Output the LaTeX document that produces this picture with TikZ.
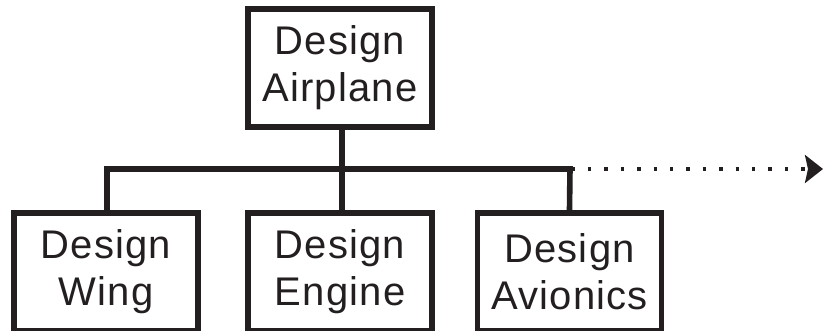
\documentclass[tikz,border=0pt]{standalone}
\usepackage{fontspec}
\setmainfont{Liberation Sans}[LetterSpace=3]
\usetikzlibrary{arrows.meta}
\definecolor{ink}{RGB}{35,31,32}
\begin{document}
\begin{tikzpicture}[x=1pt,y=-1pt,
  taskbox/.style={draw=ink, text=ink, line width=5.8pt, minimum width=184pt, minimum height=118pt,
    inner sep=0pt, align=center, font=\fontsize{40pt}{47.3pt}\selectfont},
  link/.style={draw=ink, line width=5.6pt, line join=miter},
  more/.style={draw=ink, line width=3.4pt, line cap=butt, dash pattern=on 3.4pt off 13pt, dash phase=14.8pt,
    -{Stealth[length=18pt,width=28pt,inset=3pt]}}]
\useasboundingbox (0,0) rectangle (823,331);
\node[taskbox] (top) at (340,68) {Design\\Airplane};
\node[taskbox] (wing) at (106,272) {Design\\Wing};
\node[taskbox] (eng) at (340,272) {Design\\Engine};
\node[taskbox] (avi) at (569.5,272) {Design\\Avionics};
\coordinate (barL) at (107,169);
\coordinate (barR) at (570,169);
\coordinate (tip) at (823,169);
\draw[link] ([xshift=2pt]top.south) -- ([xshift=2pt]eng.north);
\draw[link] ([xshift=1pt]wing.north) -- (barL) -- (barR) -- (avi.north);
\draw[more] (barR) -- (tip);
\end{tikzpicture}
\end{document}
